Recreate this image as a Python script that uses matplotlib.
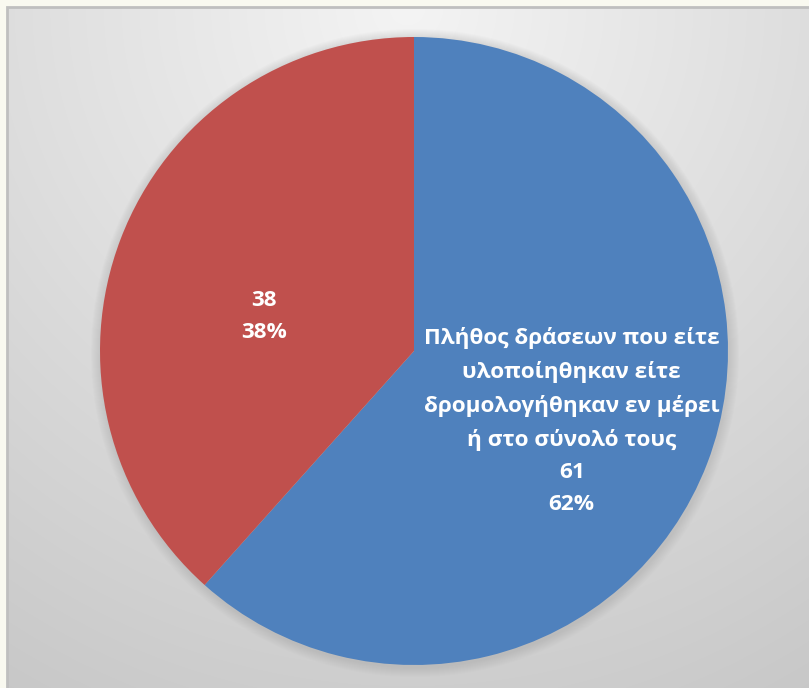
import numpy as np
import matplotlib.pyplot as plt
from matplotlib.patches import Circle, Rectangle

# data
labels = ['Πλήθος δράσεων που είτε\nυλοποίηθηκαν είτε\nδρομολογήθηκαν εν μέρει\nή στο σύνολό τους', '']
values = [61, 38]
colors = ['#4f81bd', '#c0504d']

W, H = 809, 688
fig = plt.figure(figsize=(W / 100, H / 100), dpi=100)
fig.patch.set_facecolor('#f9f9f0')
ax = fig.add_axes([0, 0, 1, 1])
ax.set_xlim(0, W)
ax.set_ylim(0, H)
ax.axis('off')

# chart area background: soft radial grey gradient
x0, y0 = 7, 0
yy, xx = np.mgrid[0:H - 7, 0:W - x0]
d = np.hypot(xx - 400, yy)
v = np.clip(244 - 0.056 * d, 196, 246) / 255.0
img = np.dstack([v, v, v])
ax.imshow(img, extent=(x0, W, y0, H - 7), origin='upper', zorder=0, aspect='auto')
ax.add_patch(Rectangle((x0, -5), W, H - 7 + 5, fill=False, ec='#bfbfbf', lw=2, zorder=1))

cx, cy, R = 414, 337, 314

# soft shadow round the pie
for k in range(10, 0, -1):
    ax.add_patch(Circle((cx + 1, cy - 2), R + k, color='#808080', alpha=0.025, lw=0, zorder=2))

wedges, _ = ax.pie(values, colors=colors, startangle=90, counterclock=False,
                   radius=R, center=(cx, cy), frame=True,
                   wedgeprops=dict(linewidth=0, zorder=3))
ax.set_xlim(0, W)
ax.set_ylim(0, H)
ax.set_aspect('equal')
ax.axis('off')

total = sum(values)
dist = [0.55, 0.49]
shift = [-3.1, 8]
for w, lab, val, r, s in zip(wedges, labels, values, dist, shift):
    ang = np.deg2rad((w.theta1 + w.theta2) / 2 + s)
    pct = round(100 * val / total)
    txt = (lab + '\n' if lab else '') + f'{val}\n{pct}%'
    ax.text(cx + r * R * np.cos(ang), cy + r * R * np.sin(ang), txt,
            ha='center', va='center', color='white', fontsize=16.2,
            fontweight='bold', family=['Open Sans', 'DejaVu Sans'],
            linespacing=1.7, zorder=5)

fig.savefig('out.png', dpi=100)
